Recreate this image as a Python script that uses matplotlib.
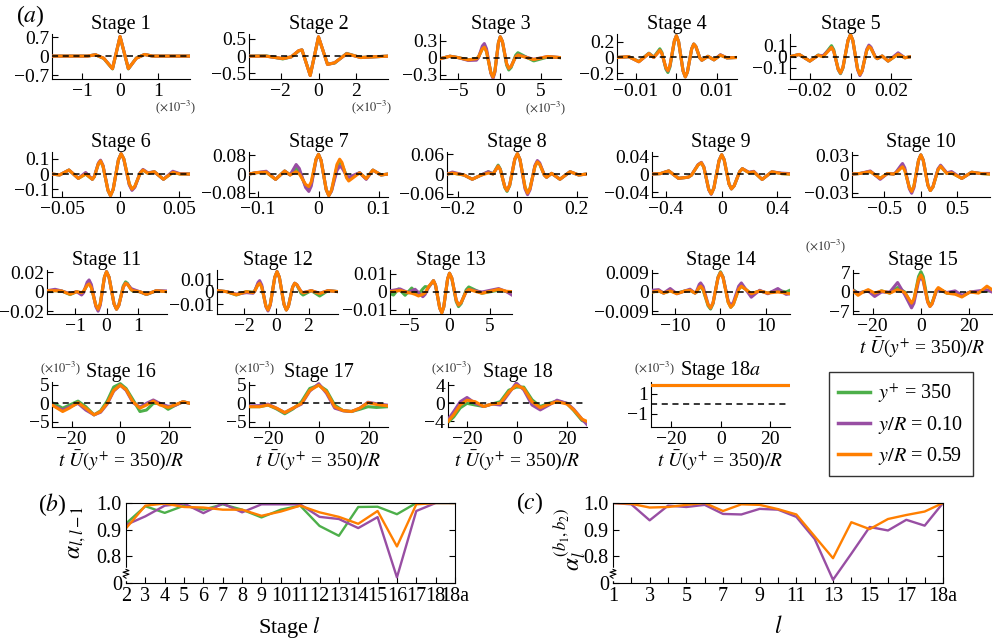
import matplotlib.pyplot as plt
from matplotlib.lines import Line2D

plt.rcParams['font.family'] = ['Liberation Serif', 'DejaVu Serif']
plt.rcParams['mathtext.fontset'] = 'stix'

green, purple, orange = '#4daf4a', '#984ea3', '#ff7f00'
M = '\u2212'

# ---------------- (a) profiles, one x array and three series per stage ----------------
x1 = [-1.8, -0.86, -0.65, -0.43, -0.2, 0.0, 0.22, 0.43, 0.65, 0.86, 1.85]
o1 = [0.0, 0.0, 0.05, -0.08, -0.46, 0.72, -0.46, -0.08, 0.06, 0.0, 0.0]
g1 = [0.0, 0.0, 0.05, -0.09, -0.47, 0.71, -0.47, -0.07, 0.06, 0.0, 0.0]
p1 = o1

x2 = [-3.7, -2.8, -1.9, -1.45, -1.05, -0.88, -0.44, 0.0, 0.48, 0.86, 1.5, 2.25, 2.9, 3.7]
o2 = [0.0, 0.0, -0.07, -0.02, 0.16, 0.18, -0.56, 0.56, -0.24, -0.19, 0.07, -0.04, -0.02, 0.0]
g2 = [0.0, 0.01, -0.08, -0.02, 0.15, 0.18, -0.55, 0.55, -0.23, -0.2, 0.08, -0.04, -0.02, 0.0]
p2 = o2

x3 = [-7.2, -6.0, -5.0, -3.8, -2.8, -2.56, -2.09, -1.85, -1.59, -1.06, -0.8, -0.58, -0.15, 0.07,
      0.33, 0.84, 1.1, 1.38, 1.93, 2.2, 4.1, 5.8, 7.4]
o3 = [-0.02, 0.025, 0.0, -0.04, -0.02, 0.01, 0.155, 0.185, 0.108, -0.268, -0.345, -0.241, 0.266, 0.37,
      0.288, -0.108, -0.19, -0.155, 0.012, 0.046, -0.035, 0.02, 0.0]
p3 = [-0.02, 0.025, 0.0, -0.05, -0.045, -0.002, 0.207, 0.25, 0.159, -0.28, -0.37, -0.262, 0.262, 0.37,
      0.288, -0.108, -0.19, -0.155, 0.015, 0.05, -0.03, 0.02, 0.0]
g3 = [-0.02, 0.025, 0.0, -0.04, -0.02, 0.011, 0.159, 0.19, 0.111, -0.271, -0.35, -0.245, 0.265, 0.37,
      0.284, -0.134, -0.22, -0.175, 0.042, 0.087, -0.058, 0.01, 0.0]

x4 = [-0.0147, -0.0118, -0.0093, -0.0068, -0.0056, -0.0041, -0.0036, -0.0026, -0.0021, -0.0016, -0.0005,
      0.0, 0.00055, 0.00165, 0.0022, 0.00273, 0.00378, 0.0043, 0.0048, 0.0058, 0.0063, 0.0078, 0.0093,
      0.0109, 0.0125, 0.015]
o4 = [0.0, 0.01, -0.054, 0.05, 0.0, 0.09, 0.053, -0.128, -0.165, -0.101, 0.211, 0.275, 0.199, -0.169,
      -0.245, -0.184, 0.109, 0.17, 0.14, -0.005, -0.035, 0.015, -0.03, 0.03, -0.005, 0.0]
g4 = [0.0, 0.01, -0.05, 0.055, 0.005, 0.11, 0.066, -0.146, -0.19, -0.122, 0.207, 0.275, 0.199, -0.169,
      -0.245, -0.184, 0.109, 0.17, 0.14, -0.005, -0.035, 0.015, -0.03, 0.03, -0.005, 0.0]
p4 = [0.0, 0.01, -0.054, 0.05, 0.0, 0.09, 0.052, -0.132, -0.17, -0.105, 0.21, 0.275, 0.199, -0.169,
      -0.245, -0.184, 0.109, 0.17, 0.14, -0.005, -0.035, 0.015, -0.03, 0.035, -0.005, 0.0]

x5 = [-0.0296, -0.0251, -0.0199, -0.0158, -0.0134, -0.0093, -0.0082, -0.006, -0.0049, -0.0037, -0.0012,
      0.0, 0.00115, 0.00345, 0.0046, 0.0057, 0.0079, 0.009, 0.01, 0.0121, 0.0131, 0.0155, 0.0184, 0.0233,
      0.0266, 0.0296]
o5 = [0.0, 0.02, -0.04, 0.012, 0.0, 0.083, 0.049, -0.114, -0.148, -0.097, 0.149, 0.2, 0.147, -0.11,
      -0.163, -0.126, 0.055, 0.092, 0.076, -0.002, -0.018, 0.006, -0.04, 0.022, -0.01, 0.0]
g5 = [0.0, 0.02, -0.04, 0.015, 0.002, 0.1, 0.063, -0.118, -0.155, -0.103, 0.148, 0.2, 0.147, -0.11,
      -0.163, -0.126, 0.055, 0.092, 0.076, -0.002, -0.018, 0.006, -0.04, 0.022, -0.01, 0.0]
p5 = [0.0, 0.02, -0.04, 0.012, 0.01, 0.083, 0.049, -0.116, -0.15, -0.099, 0.149, 0.2, 0.146, -0.118,
      -0.172, -0.132, 0.065, 0.105, 0.087, 0.0, -0.018, 0.006, -0.04, 0.035, -0.01, 0.0]

x6 = [-0.0585, -0.052, -0.044, -0.036, -0.0297, -0.024, -0.0223, -0.0188, -0.017, -0.0149, -0.0106,
      -0.0085, -0.0062, -0.0017, 0.0006, 0.0029, 0.0076, 0.0099, 0.0123, 0.017, 0.0193, 0.0235, 0.029,
      0.0368, 0.0448, 0.051, 0.0595]
o6 = [0.0, -0.006, 0.026, -0.028, 0.0, -0.034, -0.017, 0.068, 0.085, 0.052, -0.107, -0.14, -0.1, 0.092,
      0.132, 0.098, -0.064, -0.098, -0.08, 0.008, 0.026, 0.005, 0.015, -0.034, 0.011, 0.0, 0.0]
p6 = [0.0, -0.006, 0.026, -0.028, 0.01, -0.034, -0.016, 0.072, 0.09, 0.056, -0.106, -0.14, -0.1, 0.092,
      0.132, 0.097, -0.071, -0.106, -0.086, 0.01, 0.03, 0.008, 0.015, -0.034, 0.018, 0.002, 0.0]
g6 = [0.0, -0.006, 0.026, -0.028, 0.0, -0.034, -0.017, 0.068, 0.085, 0.052, -0.107, -0.14, -0.1, 0.092,
      0.132, 0.098, -0.066, -0.1, -0.082, 0.008, 0.026, 0.005, 0.015, -0.034, 0.011, 0.0, 0.0]

x7 = [-0.115, -0.103, -0.0865, -0.071, -0.056, -0.047, -0.037, -0.0318, -0.0213, -0.016, -0.012, -0.004,
      0.0, 0.00425, 0.01275, 0.017, 0.0215, 0.0305, 0.035, 0.0388, 0.0463, 0.05, 0.068, 0.079, 0.09,
      0.1035, 0.115]
o7 = [0.0, 0.006, 0.008, -0.023, 0.013, -0.004, 0.01, 0.0007, -0.0447, -0.054, -0.034, 0.065, 0.085,
      0.059, -0.067, -0.093, -0.07, 0.041, 0.064, 0.05, -0.016, -0.03, 0.005, -0.02, 0.017, -0.004, 0.0]
p7 = [0.0, 0.006, 0.012, -0.023, 0.013, -0.004, 0.041, 0.024, -0.058, -0.075, -0.052, 0.062, 0.085,
      0.059, -0.067, -0.093, -0.074, 0.015, 0.034, 0.027, -0.007, -0.014, 0.006, -0.023, 0.017, -0.004, 0.0]
g7 = [0.0, 0.006, 0.008, -0.023, 0.013, -0.004, 0.024, 0.011, -0.052, -0.065, -0.043, 0.063, 0.085,
      0.059, -0.067, -0.093, -0.072, 0.031, 0.052, 0.042, -0.008, -0.018, 0.005, -0.02, 0.017, -0.004, 0.0]

x8 = [-0.236, -0.219, -0.18, -0.152, -0.124, -0.098, -0.082, -0.065, -0.0575, -0.0425, -0.035, -0.0263,
      -0.0088, 0.0, 0.0085, 0.0255, 0.034, 0.0423, 0.0588, 0.067, 0.0748, 0.0903, 0.098, 0.115, 0.143,
      0.177, 0.206, 0.234]
o8 = [0.0, 0.003, -0.003, -0.016, -0.004, 0.003, 0.0, 0.024, 0.013, -0.039, -0.05, -0.034, 0.046, 0.062,
      0.044, -0.04, -0.058, -0.044, 0.023, 0.037, 0.03, -0.003, -0.01, 0.002, -0.016, 0.007, -0.003, 0.0]
p8 = [0.0, 0.006, -0.003, -0.016, -0.004, 0.007, 0.0, 0.024, 0.013, -0.039, -0.05, -0.034, 0.046, 0.062,
      0.044, -0.045, -0.063, -0.048, 0.026, 0.041, 0.034, -0.003, -0.01, 0.002, -0.016, 0.007, -0.003, 0.0]
g8 = [0.0, 0.003, -0.003, -0.016, -0.004, 0.007, 0.0, 0.027, 0.015, -0.041, -0.053, -0.036, 0.045, 0.062,
      0.044, -0.04, -0.058, -0.044, 0.023, 0.037, 0.03, -0.003, -0.01, 0.002, -0.016, 0.007, -0.003, 0.0]

x9 = [-0.5, -0.44, -0.38, -0.31, -0.24, -0.2165, -0.1695, -0.146, -0.128, -0.093, -0.075, -0.056, -0.019,
      0.0, 0.0175, 0.0525, 0.07, 0.0895, 0.1285, 0.148, 0.195, 0.23, 0.29, 0.36, 0.43, 0.49]
o9 = [0.0, 0.001, 0.007, -0.0095, -0.007, -0.0023, 0.0203, 0.025, 0.015, -0.034, -0.044, -0.031, 0.03,
      0.043, 0.032, -0.022, -0.033, -0.026, 0.005, 0.012, 0.003, 0.005, -0.012, 0.005, 0.001, 0.0]
p9 = [0.0, 0.001, 0.007, -0.0095, -0.007, -0.002, 0.021, 0.026, 0.016, -0.035, -0.045, -0.031, 0.03,
      0.043, 0.032, -0.022, -0.033, -0.026, 0.005, 0.012, 0.004, 0.006, -0.012, 0.005, 0.002, 0.001]
g9 = o9

x10 = [-0.94, -0.83, -0.69, -0.555, -0.455, -0.373, -0.342, -0.268, -0.25, -0.219, -0.156, -0.125, -0.094,
       -0.031, 0.0, 0.0325, 0.0975, 0.13, 0.165, 0.235, 0.27, 0.355, 0.42, 0.56, 0.695, 0.81, 0.945]
o10 = [0.0, 0.001, 0.004, -0.007, 0.001, 0.0, 0.0017, 0.01, 0.0117, 0.0059, -0.0222, -0.028, -0.0194,
       0.0224, 0.031, 0.0226, -0.0182, -0.0266, -0.021, 0.007, 0.0127, 0.001, 0.002, -0.007, 0.003, 0.001, 0.0]
p10 = [0.0, 0.001, 0.005, -0.0085, 0.001, 0.0, 0.0025, 0.0145, 0.017, 0.01, -0.024, -0.031, -0.022,
       0.022, 0.031, 0.0226, -0.0182, -0.0266, -0.0206, 0.0084, 0.0143, 0.002, 0.004, -0.007, 0.003, 0.001, 0.001]
g10 = [0.0, 0.001, 0.004, -0.007, 0.001, 0.0, 0.0019, 0.0111, 0.013, 0.007, -0.022, -0.028, -0.0194,
       0.0224, 0.031, 0.0226, -0.0182, -0.0266, -0.021, 0.007, 0.0127, 0.001, 0.002, -0.007, 0.003, 0.001, 0.0]

x11 = [-1.91, -1.65, -1.44, -1.17, -0.96, -0.8, -0.74, -0.62, -0.56, -0.4875, -0.3425, -0.27, -0.2025,
       -0.0675, 0.0, 0.08, 0.24, 0.32, 0.3925, 0.5375, 0.61, 0.67, 0.79, 0.85, 1.06, 1.28, 1.6, 1.94]
o11 = [0.001, 0.001, 0.0007, -0.0027, 0.0, -0.001, 0.0003, 0.0066, 0.0079, 0.0041, -0.0142, -0.018,
       -0.0124, 0.0149, 0.0205, 0.0149, -0.0124, -0.018, -0.0141, 0.0047, 0.0086, 0.0075, 0.0021, 0.001,
       0.0, -0.0027, 0.001, 0.0]
p11 = [0.001, 0.0024, 0.0007, -0.002, 0.0, -0.0034, -0.0012, 0.0098, 0.012, 0.0073, -0.0153, -0.02,
       -0.0141, 0.0146, 0.0205, 0.0149, -0.0124, -0.018, -0.0141, 0.0047, 0.0086, 0.0077, 0.0033, 0.0024,
       0.0, -0.0027, 0.001, 0.0007]
g11 = [0.001, 0.001, 0.0007, -0.003, 0.0, -0.0015, 0.0, 0.007, 0.0085, 0.0046, -0.0141, -0.018, -0.0124,
       0.0149, 0.0205, 0.0149, -0.0124, -0.018, -0.0139, 0.0059, 0.01, 0.0086, 0.0019, 0.0005, 0.0,
       -0.003, 0.001, 0.0]

x12 = [-3.69, -3.1, -2.49, -1.86, -1.45, -1.35, -1.14, -1.04, -0.91, -0.65, -0.52, -0.38, -0.1, 0.04,
       0.185, 0.475, 0.62, 0.75, 1.01, 1.14, 1.27, 1.53, 1.66, 2.17, 2.69, 3.21, 3.83]
o12 = [0.0008, 0.0, -0.0025, 0.0, -0.0008, 0.0003, 0.0056, 0.0067, 0.0036, -0.0116, -0.0147, -0.0102,
       0.0115, 0.016, 0.0115, -0.0102, -0.0147, -0.0116, 0.0036, 0.0067, 0.0056, 0.0001, -0.001, 0.0008,
       -0.0015, 0.0008, 0.0]
p12 = [0.0008, 0.0, -0.002, -0.0008, -0.0013, 0.0002, 0.0073, 0.0088, 0.0053, -0.012, -0.0155, -0.0109,
       0.0114, 0.016, 0.0115, -0.0102, -0.0147, -0.0116, 0.0036, 0.0067, 0.0056, 0.0001, -0.0008, 0.0008,
       -0.0013, 0.0008, 0.0]
g12 = [0.0008, 0.0, -0.0027, 0.0, -0.0005, 0.0006, 0.006, 0.0072, 0.004, -0.0115, -0.0147, -0.0102,
       0.0115, 0.016, 0.0115, -0.0102, -0.0147, -0.0116, 0.0036, 0.0067, 0.0053, -0.0013, -0.0027, 0.0008,
       -0.0035, 0.0008, 0.0]

x13 = [-7.42, -6.99, -6.375, -6.17, -5.54, -5.125, -4.71, -4.29, -3.87, -3.33, -3.04, -2.6, -2.0, -1.74,
       -1.22, -0.96, -0.72, -0.24, 0.0, 0.28, 0.84, 1.125, 1.44, 2.08, 2.4, 4.04, 6.125, 7.1, 7.79]
o13 = [0.0, 0.0002, 0.0005, 0.0006, 0.0, -0.0006, -0.0009, -0.0015, -0.0024, -0.0015, -0.0006, 0.0028,
       0.0061, 0.0035, -0.0091, -0.0117, -0.0085, 0.007, 0.0102, 0.0076, -0.0048, -0.0074, -0.0061, 0.0,
       0.0012, -0.0009, 0.0013, 0.0002, 0.0]
g13 = [-0.001, -0.0019, 0.0015, 0.0008, -0.002, 0.0, 0.002, 0.0, -0.0015, 0.0015, 0.0028, 0.0025,
       0.0061, 0.0035, -0.0091, -0.0117, -0.0085, 0.007, 0.0102, 0.0075, -0.0056, -0.0083, -0.0067, 0.001,
       0.0026, -0.0009, 0.0008, 0.0, 0.0]
p13 = [0.0005, 0.0008, 0.0013, 0.0015, 0.0002, -0.0006, 0.0005, 0.0013, -0.0005, -0.0028, -0.0015,
       0.0025, 0.0061, 0.0035, -0.0091, -0.0117, -0.0085, 0.007, 0.0102, 0.0076, -0.0048, -0.0074, -0.0061,
       0.0, 0.0012, -0.0002, 0.0017, 0.0, -0.0019]

x14 = [-15.05, -13.6, -12.5, -11.05, -9.6, -7.8, -6.7, -5.6, -5.29, -4.67, -4.36, -3.815, -2.725, -2.18,
       -1.635, -0.545, 0.0, 0.5625, 1.6875, 2.25, 2.83, 4.0, 4.58, 5.67, 6.76, 8.6, 10.4, 12.6, 14.4, 15.27]
o14 = [0.0, 0.0005, -0.0005, 0.0005, -0.0008, 0.0005, 0.0008, -0.0005, 0.0, 0.0022, 0.0027, 0.0012,
       -0.0059, -0.0074, -0.005, 0.0066, 0.009, 0.0066, -0.0048, -0.0071, -0.0057, 0.0013, 0.0027, 0.001,
       -0.0008, 0.0005, -0.0005, 0.0, -0.0005, -0.0008]
p14 = [0.0008, 0.0011, -0.0005, 0.0016, -0.0008, 0.0005, 0.0013, -0.0005, 0.0002, 0.0035, 0.0042, 0.0025,
       -0.0057, -0.0074, -0.005, 0.0066, 0.009, 0.0068, -0.0041, -0.0063, -0.0048, 0.0027, 0.0042, 0.0009,
       -0.0024, 0.0008, -0.0008, 0.0016, -0.0011, -0.0008]
g14 = [0.0, 0.0005, -0.0005, 0.0005, -0.0005, 0.0005, 0.0008, -0.0005, -0.0001, 0.002, 0.0024, 0.0009,
       -0.0064, -0.0079, -0.0054, 0.0069, 0.0094, 0.007, -0.0047, -0.0071, -0.0057, 0.0013, 0.0027, 0.001,
       -0.0008, 0.0005, -0.0005, 0.0008, 0.0, 0.0008]

# stages 15-18a are in units of 1e-3
x15 = [-28.2, -26.1, -24.0, -21.9, -19.2, -16.4, -12.9, -9.7, -6.7, -3.9, -2.925, -0.975, 0.0, 0.94, 2.81,
       3.75, 4.61, 6.34, 7.2, 10.7, 14.2, 17.0, 20.4, 23.9, 27.4, 29.5]
o15 = [0.4, -1.2, 0.0, 0.85, -0.4, 0.4, -0.4, 0.85, -0.2, -4.0, -2.53, 4.63, 6.1, 4.45, -3.55, -5.2, -4.21,
       0.61, 1.6, -0.4, -0.8, -1.8, 0.0, -0.4, 2.1, 0.85]
p15 = [0.6, -0.4, 0.0, 0.4, -1.6, 0.0, 0.0, 3.4, -1.0, -5.7, -4.06, 3.86, 5.5, 3.94, -3.64, -5.2, -4.29,
       0.1, 1.0, -0.2, 0.4, -1.2, 0.0, 0.4, 0.8, 0.0]
g15 = [0.85, -0.4, 0.0, 0.4, -1.0, 0.4, -0.4, 1.6, 0.0, -4.5, -2.78, 5.58, 7.3, 5.53, -3.03, -4.8, -3.92,
       0.32, 1.2, -0.4, -0.4, -1.5, 0.0, 0.0, 0.4, 0.4]

x16 = [-28.1, -23.7, -21.0, -17.4, -14.2, -10.8, -8.1, -5.4, -2.7, 0.0, 2.4, 5.2, 8.1, 10.8, 13.6, 16.3,
       19.7, 22.4, 25.8, 28.7]
o16 = [-0.44, -2.2, -1.3, 0.18, -1.3, -3.1, -2.2, 0.0, 3.5, 4.9, 3.7, 0.44, -1.3, -0.44, 0.6, -0.44, -1.1,
       -0.44, 0.44, 0.0]
p16 = [-0.44, -1.8, -1.0, 0.0, -1.8, -3.1, -2.4, -0.2, 3.3, 4.9, 3.5, 0.2, -1.0, 0.0, 0.9, 0.0, -0.8,
       -0.6, 0.44, 0.0]
g16 = [0.18, -1.3, -0.5, 0.6, -0.9, -3.1, -2.0, 0.6, 4.4, 5.3, 4.0, 1.0, -2.2, -1.8, 0.0, 0.0, -1.6,
       -0.6, 0.44, 0.0]

x17 = [-27.9, -23.6, -20.3, -16.9, -13.6, -10.3, -6.9, -3.6, 0.0, 3.1, 6.4, 9.7, 13.1, 16.4, 19.7, 23.1, 27.7]
o17 = [-0.9, -0.9, -0.44, -1.3, -2.5, -1.3, 0.0, 3.5, 4.9, 3.1, -0.9, -1.95, -2.2, -1.3, 0.18, -0.3, -0.7]
p17 = [-0.7, -0.6, -0.2, -1.3, -2.5, -1.3, -0.2, 3.3, 5.3, 2.7, -1.3, -2.0, -2.2, -1.3, 0.3, -0.1, -0.5]
g17 = [-0.9, -0.9, -0.44, -1.5, -2.8, -1.5, 0.44, 4.0, 4.9, 3.5, -0.5, -1.95, -2.2, -1.6, -0.9, -1.1, -0.9]

x18 = [-27.6, -25.3, -22.7, -20.0, -16.7, -13.3, -10.0, -6.7, -3.3, -0.3, 2.7, 6.0, 9.3, 12.7, 16.0, 20.0,
       22.7, 26.0, 28.0]
o18 = [-4.0, -2.5, -0.36, 0.7, 0.36, -0.7, -0.15, 0.0, 2.5, 4.0, 3.3, 0.36, -0.95, -0.2, 0.36, -0.15,
       -1.45, -3.5, -4.0]
p18 = [-3.6, -1.8, 0.36, 1.3, 0.0, -0.7, -0.15, -0.36, 2.2, 4.5, 3.0, -0.36, -1.45, -0.4, 0.7, 0.0, -1.3,
       -3.5, -4.7]
g18 = [-4.2, -3.0, -1.0, 0.0, -0.36, -0.7, -0.15, 0.36, 2.9, 3.6, 3.6, 0.8, -0.7, 0.0, 0.5, 0.0, -1.6,
       -3.8, -4.2]

x18a = [-28.3, 28.0]
o18a = [1.83, 1.83]
p18a = [1.83, 1.83]
g18a = [1.83, 1.83]

# ---------------- (b), (c) ----------------
b_stages = [str(i) for i in range(2, 19)] + ['18a']
b_green = [0.923, 0.988, 0.963, 0.99, 0.975, 0.995, 0.975, 0.946, 0.975, 0.99, 0.914, 0.877, 0.985,
           0.986, 0.958, 1.0, 1.0, 1.0]
b_purple = [0.918, 0.95, 0.99, 0.998, 0.962, 0.998, 0.965, 0.995, 0.995, 0.995, 0.948, 0.94, 0.906,
            0.947, 0.721, 0.97, 1.0, 1.0]
b_orange = [0.905, 0.99, 0.998, 0.985, 0.983, 0.975, 0.975, 0.952, 0.968, 0.99, 0.965, 0.948, 0.922,
            0.97, 0.837, 0.995, 1.0, 1.0]

c_stages = [str(i) for i in range(1, 19)] + ['18a']
c_purple = [1.0, 0.995, 0.935, 0.99, 0.985, 0.993, 0.959, 0.957, 0.978, 0.975, 0.948, 0.865, 0.712,
            0.81, 0.91, 0.897, 0.937, 0.915, 1.0]
c_orange = [1.0, 0.997, 0.983, 0.985, 0.993, 1.0, 0.97, 0.995, 0.993, 0.977, 0.957, 0.875, 0.793,
            0.928, 0.902, 0.94, 0.955, 0.968, 1.0]

legend_labels = [r'$y^{+}$ = 350', r'$y/R$ = 0.10', r'$y/R$ = 0.59']
time_label = r'$t\ \bar{U}(y^{+}$ = 350)$/R$'

W, H = 993, 639
fig = plt.figure(figsize=(W / 100, H / 100), dpi=100)


def box(l, t, r, b):
    return [l / W, 1 - b / H, (r - l) / W, (b - t) / H]


def pm(s):
    return [M + s, '0', s]


def wave(title, x, g, p, o, rect, xlim, xt, xtl, ylim, yt, ytl, xlabel=False):
    ax = fig.add_axes(box(*rect))
    ax.plot(x, g, color=green, lw=2.2, zorder=2, solid_joinstyle='round')
    ax.plot(x, p, color=purple, lw=2.2, zorder=3, solid_joinstyle='round')
    ax.plot(x, o, color=orange, lw=2.2, zorder=4, solid_joinstyle='round')
    ax.axhline(0, color='k', lw=1.1, ls=(0, (4, 3)), zorder=5)
    ax.set_xlim(*xlim)
    ax.set_ylim(*ylim)
    ax.set_xticks(xt, xtl)
    ax.set_yticks(yt, ytl)
    for s in ['top', 'right']:
        ax.spines[s].set_visible(False)
    for s in ['left', 'bottom']:
        ax.spines[s].set_linewidth(0.8)
    ax.tick_params(direction='in', length=4, width=0.8, labelsize=14)
    ax.tick_params(axis='x', pad=3)
    ax.tick_params(axis='y', pad=2)
    ax.set_title(title, fontsize=14.5, pad=3)
    if xlabel:
        ax.set_xlabel(time_label, fontsize=14, labelpad=0)
    return ax


row1, row2, row3, row4 = (34, 79), (152, 197), (270, 314), (382, 427)

wave('Stage 1', x1, g1, p1, o1, (52, row1[0], 190, row1[1]), (-1.8, 1.85), [-1, 0, 1], pm('1'),
     (-0.84, 0.81), [-0.7, 0, 0.7], pm('0.7'))
wave('Stage 2', x2, g2, p2, o2, (249, row1[0], 388, row1[1]), (-3.7, 3.7), [-2, 0, 2], pm('2'),
     (-0.66, 0.64), [-0.5, 0, 0.5], pm('0.5'))
wave('Stage 3', x3, g3, p3, o3, (440, row1[0], 561, row1[1]), (-7.2, 7.4), [-5, 0, 5], pm('5'),
     (-0.38, 0.42), [-0.3, 0, 0.3], pm('0.3'))
wave('Stage 4', x4, g4, p4, o4, (617, row1[0], 737, row1[1]), (-0.0147, 0.015), [-0.01, 0, 0.01],
     pm('0.01'), (-0.272, 0.297), [-0.2, 0, 0.2], pm('0.2'))
wave('Stage 5', x5, g5, p5, o5, (790, row1[0], 911, row1[1]), (-0.0296, 0.0296), [-0.02, 0, 0.02],
     pm('0.02'), (-0.203, 0.206), [-0.1, 0, 0.1], pm('0.1'))

wave('Stage 6', x6, g6, p6, o6, (52, row2[0], 190, row2[1]), (-0.0585, 0.0595), [-0.05, 0, 0.05],
     pm('0.05'), (-0.149, 0.143), [-0.1, 0, 0.1], pm('0.1'))
wave('Stage 7', x7, g7, p7, o7, (249, row2[0], 388, row2[1]), (-0.115, 0.115), [-0.1, 0, 0.1],
     pm('0.1'), (-0.099, 0.095), [-0.08, 0, 0.08], pm('0.08'))
wave('Stage 8', x8, g8, p8, o8, (447, row2[0], 587, row2[1]), (-0.237, 0.234), [-0.2, 0, 0.2],
     pm('0.2'), (-0.07, 0.067), [-0.06, 0, 0.06], pm('0.06'))
wave('Stage 9', x9, g9, p9, o9, (652, row2[0], 790, row2[1]), (-0.5, 0.49), [-0.4, 0, 0.4],
     pm('0.4'), (-0.051, 0.049), [-0.04, 0, 0.04], pm('0.04'))
wave('Stage 10', x10, g10, p10, o10, (852, row2[0], 990, row2[1]), (-0.94, 0.945), [-0.5, 0, 0.5],
     pm('0.5'), (-0.037, 0.0356), [-0.03, 0, 0.03], pm('0.03'))

wave('Stage 11', x11, g11, p11, o11, (47, row3[0], 167, row3[1]), (-1.91, 1.94), [-1, 0, 1], pm('1'),
     (-0.0229, 0.0222), [-0.02, 0, 0.02], pm('0.02'))
wave('Stage 12', x12, g12, p12, o12, (217, row3[0], 338, row3[1]), (-3.69, 3.83), [-2, 0, 2], pm('2'),
     (-0.0179, 0.0173), [-0.01, 0, 0.01], pm('0.01'))
wave('Stage 13', x13, g13, p13, o13, (390, row3[0], 512, row3[1]), (-7.42, 7.79), [-5, 0, 5], pm('5'),
     (-0.0124, 0.012), [-0.01, 0, 0.01], pm('0.01'))
wave('Stage 14', x14, g14, p14, o14, (652, row3[0], 790, row3[1]), (-15.05, 15.27), [-10, 0, 10],
     pm('10'), (-0.0102, 0.0102), [-0.009, 0, 0.009], pm('0.009'))
wave('Stage 15', x15, g15, p15, o15, (853, row3[0], 992, row3[1]), (-28.2, 29.5), [-20, 0, 20],
     pm('20'), (-7.9, 7.9), [-7, 0, 7], pm('7'), xlabel=True)

wave('Stage 16', x16, g16, p16, o16, (52, row4[0], 190, row4[1]), (-28.1, 28.7), [-20, 0, 20],
     pm('20'), (-6.37, 5.75), [-5, 0, 5], pm('5'), xlabel=True)
wave('Stage 17', x17, g17, p17, o17, (249, row4[0], 388, row4[1]), (-27.9, 27.7), [-20, 0, 20],
     pm('20'), (-6.37, 5.75), [-5, 0, 5], pm('5'), xlabel=True)
wave('Stage 18', x18, g18, p18, o18, (448, row4[0], 587, row4[1]), (-27.6, 28.0), [-20, 0, 20],
     pm('20'), (-5.24, 4.73), [-4, 0, 4], pm('4'), xlabel=True)
wave(r'Stage 18$\mathit{a}$', x18a, g18a, p18a, o18a, (651, row4[0], 790, row4[1]), (-28.3, 28.0),
     [-20, 0, 20], pm('20'), (-2.33, 2.17), [1, -1], ['1', M + '1'], xlabel=True)

# multiplier notes
for px, py in [(176, 107), (372, 107), (546, 108), (826, 246), (61, 368), (255, 368), (452, 368), (655, 368)]:
    fig.text(px / W, 1 - py / H, r'($\times10^{-3}$)', fontsize=9, color='#333333', ha='center', va='center')


def alpha(rect, stages, series, shown):
    ax = fig.add_axes(box(*rect))
    pos = list(range(len(stages)))
    for vals, c in series:
        ax.plot(pos, vals, color=c, lw=1.7)
    ax.set_xlim(0, len(stages) - 1)
    ax.set_ylim(0.7, 1.0)
    ax.set_xticks(pos, [s if s in shown else '' for s in stages])
    ax.set_yticks([0.7, 0.8, 0.9, 1.0], ['0', '0.8', '0.9', '1.0'])
    ax.tick_params(direction='in', length=4, width=0.8, labelsize=14.5, right=True, pad=3)
    for s in ax.spines.values():
        s.set_linewidth(0.8)
    # axis break on the left spine
    ax.plot([0, 0], [0.055, 0.175], color='white', lw=2.5, transform=ax.transAxes, clip_on=False, zorder=6)
    ax.plot([0, -0.009, 0.009, -0.009, 0.009, 0], [0.06, 0.085, 0.11, 0.135, 0.155, 0.17], color='k',
            lw=0.8, transform=ax.transAxes, clip_on=False, zorder=7)
    return ax


alpha((126, 503, 455, 583), b_stages, [(b_green, green), (b_purple, purple), (b_orange, orange)],
      set(b_stages))
alpha((613, 503, 943, 583), c_stages, [(c_purple, purple), (c_orange, orange)],
      {'1', '3', '5', '7', '9', '11', '13', '15', '17', '18a'})

fig.text(77 / W, 1 - 532 / H, r'$\alpha_{l,l-1}$', fontsize=17, rotation=90, ha='center', va='center')
fig.text(570 / W, 1 - 540 / H, r'$\alpha_{l}^{(b_1,b_2)}$', fontsize=17, rotation=90, ha='center', va='center')
fig.text(290 / W, 1 - 627 / H, r'Stage $l$', fontsize=16, ha='center', va='center')
fig.text(778 / W, 1 - 627 / H, r'$l$', fontsize=17, ha='center', va='center')

fig.text(30 / W, 1 - 16 / H, r'($\mathit{a}$)', fontsize=17, ha='center', va='center')
fig.text(52 / W, 1 - 505 / H, r'($\mathit{b}$)', fontsize=17, ha='center', va='center')
fig.text(530 / W, 1 - 503 / H, r'($\mathit{c}$)', fontsize=17, ha='center', va='center')

handles = [Line2D([], [], color=c, lw=2.5) for c in (green, purple, orange)]
fig.legend(handles, legend_labels, loc='upper left', bbox_to_anchor=(829 / W, 1 - 372 / H),
           bbox_transform=fig.transFigure, borderaxespad=0, frameon=True, fancybox=False,
           edgecolor='#333333', framealpha=1, fontsize=14.5, handlelength=1.6, handletextpad=0.4,
           labelspacing=0.45, borderpad=0.45)

fig.savefig('out.png', dpi=100)
